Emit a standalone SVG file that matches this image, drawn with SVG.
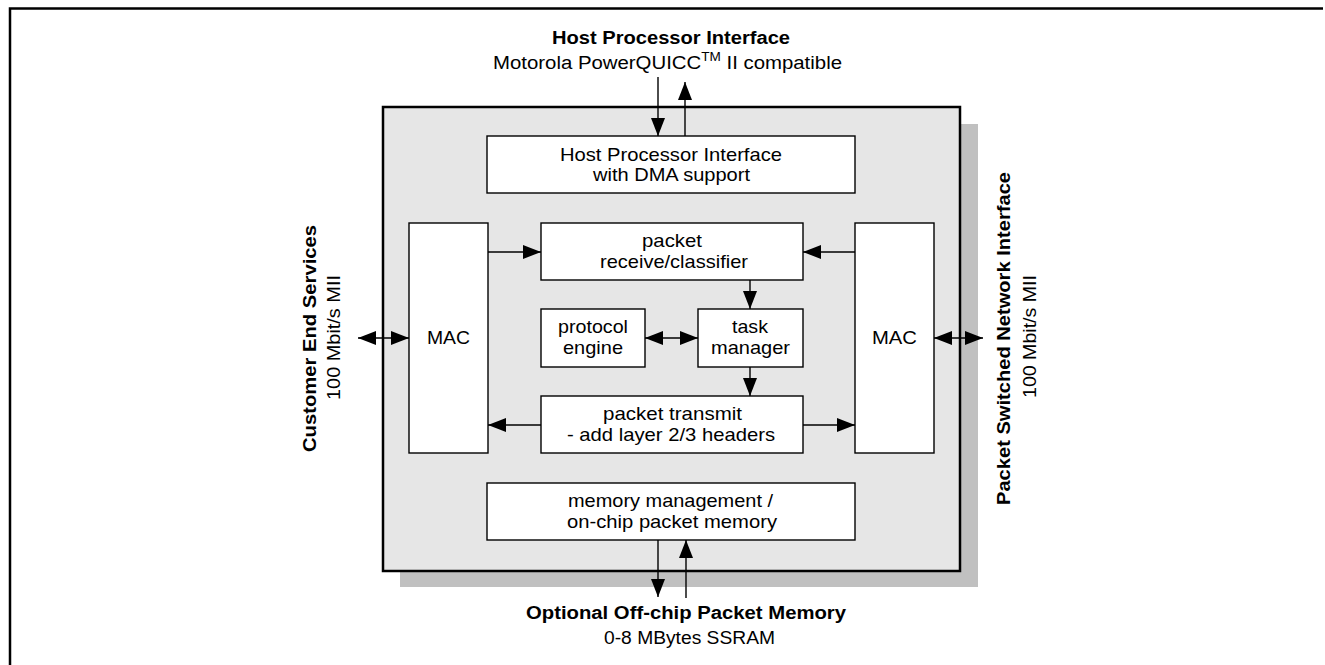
<svg xmlns="http://www.w3.org/2000/svg" width="1325" height="665" viewBox="0 0 1325 665">
<style>
text{font-family:"Liberation Sans",Arial,sans-serif;fill:#000;text-anchor:middle}
.b{font-weight:bold}
.lbl{font-size:18px}
.box{fill:#fff;stroke:#000;stroke-width:1.4}
.t{font-size:19px}
.r{font-size:19px}
.c{stroke:#000;stroke-width:1.4;fill:none;marker-end:url(#ah)}
.d{marker-start:url(#ah)}
</style>
<defs>
<marker id="ah" markerUnits="userSpaceOnUse" markerWidth="19" markerHeight="14" refX="18" refY="7" orient="auto-start-reverse"><path d="M0,0 L18,7 L0,14 z" fill="#000"/></marker>
</defs>
<path d="M10,665 V8.5 H1323" fill="none" stroke="#000" stroke-width="2.5"/>
<g id="chip">
<rect x="400" y="124" width="578" height="463" fill="#c0c0c0"/>
<rect x="383" y="107" width="577" height="464" fill="#e6e6e6" stroke="#000" stroke-width="2.5"/>
</g>
<g id="host-label">
<text class="lbl b" x="671" y="44" textLength="238" lengthAdjust="spacingAndGlyphs">Host Processor Interface</text>
<text class="lbl" x="667.5" y="69" textLength="349" lengthAdjust="spacingAndGlyphs">Motorola PowerQUICC<tspan font-size="12" dy="-8">TM</tspan><tspan dy="8"> II compatible</tspan></text>
</g>
<g id="hpi">
<rect class="box" x="487" y="136" width="368" height="57"/>
<text class="t" x="671" y="161" textLength="222" lengthAdjust="spacingAndGlyphs">Host Processor Interface</text>
<text class="t" x="671.5" y="181" textLength="157" lengthAdjust="spacingAndGlyphs">with DMA support</text>
</g>
<g id="mac-left">
<rect class="box" x="409" y="223" width="79" height="230"/>
<text class="t" x="448.5" y="344" textLength="43" lengthAdjust="spacingAndGlyphs">MAC</text>
</g>
<g id="mac-right">
<rect class="box" x="855" y="223" width="79" height="230"/>
<text class="t" x="894.5" y="344" textLength="45" lengthAdjust="spacingAndGlyphs">MAC</text>
</g>
<g id="rx">
<rect class="box" x="541" y="223" width="262" height="57"/>
<text class="t" x="672" y="247" textLength="60" lengthAdjust="spacingAndGlyphs">packet</text>
<text class="t" x="674" y="268" textLength="148" lengthAdjust="spacingAndGlyphs">receive/classifier</text>
</g>
<g id="proto">
<rect class="box" x="541" y="309" width="104" height="58"/>
<text class="t" x="593" y="333" textLength="70" lengthAdjust="spacingAndGlyphs">protocol</text>
<text class="t" x="593" y="354" textLength="60" lengthAdjust="spacingAndGlyphs">engine</text>
</g>
<g id="task">
<rect class="box" x="698" y="309" width="105" height="58"/>
<text class="t" x="750" y="333" textLength="36" lengthAdjust="spacingAndGlyphs">task</text>
<text class="t" x="750.5" y="354" textLength="79" lengthAdjust="spacingAndGlyphs">manager</text>
</g>
<g id="tx">
<rect class="box" x="541" y="396" width="262" height="57"/>
<text class="t" x="672.5" y="420" textLength="139" lengthAdjust="spacingAndGlyphs">packet transmit</text>
<text class="t" x="671" y="441" textLength="208" lengthAdjust="spacingAndGlyphs">- add layer 2/3 headers</text>
</g>
<g id="mem">
<rect class="box" x="487" y="483" width="368" height="57"/>
<text class="t" x="670.5" y="507" textLength="205" lengthAdjust="spacingAndGlyphs">memory management /</text>
<text class="t" x="672" y="528" textLength="210" lengthAdjust="spacingAndGlyphs">on-chip packet memory</text>
</g>
<g id="mem-label">
<text class="lbl b" x="686" y="619" textLength="320" lengthAdjust="spacingAndGlyphs">Optional Off-chip Packet Memory</text>
<text class="lbl" x="689.5" y="644" textLength="171" lengthAdjust="spacingAndGlyphs">0-8 MBytes SSRAM</text>
</g>
<g id="left-label" transform="translate(316,338.5) rotate(-90)">
<text class="r b" x="0" y="0" textLength="227" lengthAdjust="spacingAndGlyphs">Customer End Services</text>
<text class="r" x="1" y="24" textLength="125" lengthAdjust="spacingAndGlyphs">100 Mbit/s MII</text>
</g>
<g id="right-label" transform="translate(1010,338.5) rotate(-90)">
<text class="r b" x="0" y="0" textLength="333" lengthAdjust="spacingAndGlyphs">Packet Switched Network Interface</text>
<text class="r" x="2" y="26" textLength="123" lengthAdjust="spacingAndGlyphs">100 Mbit/s MII</text>
</g>
<g id="connectors">
<line class="c" x1="658" y1="77" x2="658" y2="136"/>
<line class="c" x1="685" y1="136" x2="685" y2="82"/>
<line class="c" x1="488" y1="252" x2="541" y2="252"/>
<line class="c" x1="855" y1="252" x2="803" y2="252"/>
<line class="c" x1="541" y1="425" x2="488" y2="425"/>
<line class="c" x1="803" y1="425" x2="855" y2="425"/>
<line class="c" x1="750" y1="280" x2="750" y2="309"/>
<line class="c" x1="750" y1="367" x2="750" y2="396"/>
<line class="c d" x1="645" y1="338" x2="698" y2="338"/>
<line class="c d" x1="358" y1="338" x2="409" y2="338"/>
<line class="c d" x1="934" y1="338" x2="983" y2="338"/>
<line class="c" x1="658" y1="540" x2="658" y2="597"/>
<line class="c" x1="686" y1="598" x2="686" y2="540"/>
</g>
</svg>
